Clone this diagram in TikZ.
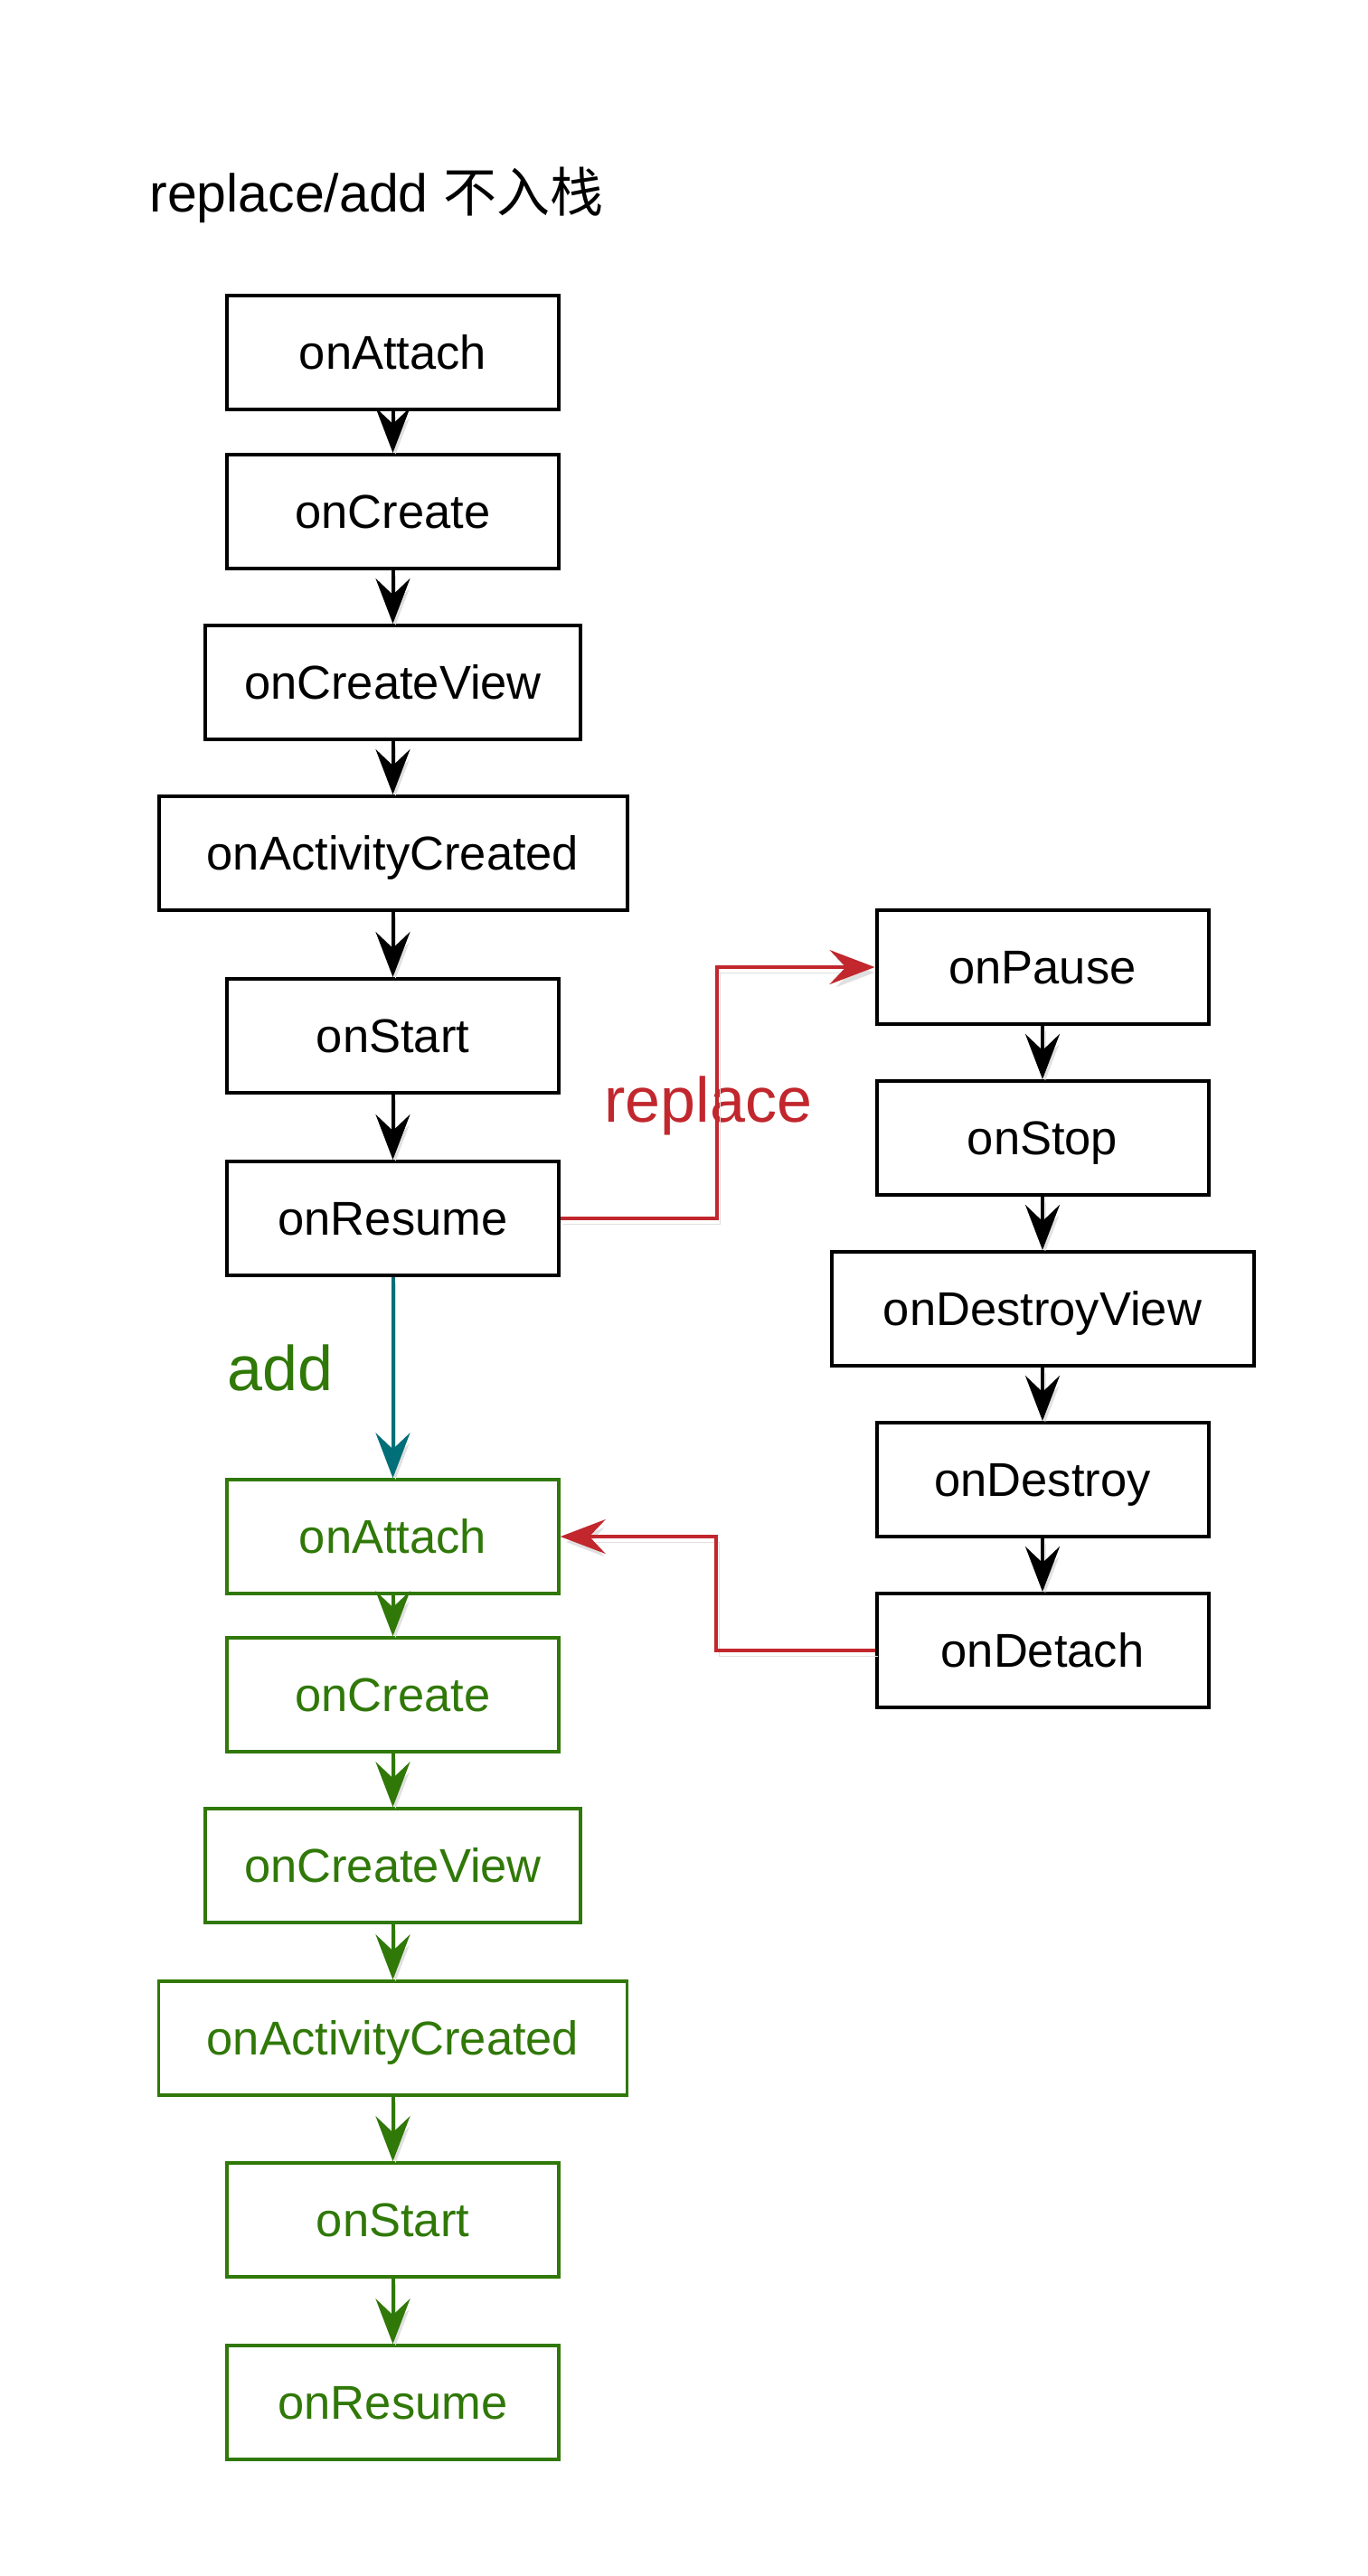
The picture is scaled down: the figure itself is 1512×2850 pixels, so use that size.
\documentclass[tikz,border=0pt]{standalone}
\usepackage{fontspec}
\setmainfont{Liberation Sans}
\newfontfamily\cjk{Noto Sans CJK SC}
\usetikzlibrary{arrows.meta,calc}
\definecolor{kred}{RGB}{193,39,45}
\definecolor{kgreen}{RGB}{48,120,8}
\definecolor{kteal}{RGB}{0,111,119}
\begin{document}
\begin{tikzpicture}[x=0.5pt,y=-0.5pt,
  box/.style={draw, line width=2pt, minimum height=63pt, inner sep=0pt,
    font=\fontsize{26.25pt}{30pt}\selectfont, text height=18.8pt, text depth=0pt},
  gbox/.style={box, draw=kgreen, text=kgreen, line width=1.75pt},
  narrow/.style={minimum width=183.5pt},
  medium/.style={minimum width=207.5pt},
  wide/.style={minimum width=259pt},
  rwide/.style={minimum width=233.5pt},
  shadowed/.style={preaction={draw=black!12, transform canvas={shift={(1.5pt,-3pt)}}}},
  arr/.style={shadowed, -{Stealth[length=25pt,width=19pt,inset=9pt]}, line width=2pt},
  garr/.style={arr, draw=kgreen},
  rarr/.style={arr, draw=kred, line width=1.6pt},
  tarr/.style={arr, draw=kteal, line width=2pt},
  lbl/.style={anchor=base west, inner sep=0pt, font=\fontsize{35pt}{40pt}\selectfont}
]
\useasboundingbox (0,0) rectangle (1512,2850);
\fill[white] (0,0) rectangle (1512,2850);

\node[anchor=base west, inner sep=0pt, font=\fontsize{29.5pt}{34pt}\selectfont] (title) at (165,234) {replace/add {\cjk 不入栈}};

% left column (black)
\node[box,narrow] (a1) at (434.5,390) {onAttach};
\node[box,narrow] (a2) at (434.5,566) {onCreate};
\node[box,medium] (a3) at (434.5,755) {onCreateView};
\node[box,wide]   (a4) at (434.5,944) {onActivityCreated};
\node[box,narrow] (a5) at (434.5,1146) {onStart};
\node[box,narrow] (a6) at (434.5,1348) {onResume};

% left column (green)
\node[gbox,narrow] (g1) at (434.5,1700) {onAttach};
\node[gbox,narrow] (g2) at (434.5,1875) {onCreate};
\node[gbox,medium] (g3) at (434.5,2064) {onCreateView};
\node[gbox,wide]   (g4) at (434.5,2255) {onActivityCreated};
\node[gbox,narrow] (g5) at (434.5,2456) {onStart};
\node[gbox,narrow] (g6) at (434.5,2658) {onResume};

% right column
\node[box,narrow] (p1) at (1153,1070) {onPause};
\node[box,narrow] (p2) at (1153,1259) {onStop};
\node[box,rwide]  (p3) at (1153,1448) {onDestroyView};
\node[box,narrow] (p4) at (1153,1637) {onDestroy};
\node[box,narrow] (p5) at (1153,1826) {onDetach};

% labels
\node[lbl, text=kred] (lrep) at (668,1241) {replace};
\node[lbl, text=kgreen] (ladd) at (251,1538) {add};

% arrows
\foreach \s/\t in {a1/a2,a2/a3,a3/a4,a4/a5,a5/a6,p1/p2,p2/p3,p3/p4,p4/p5}
  \draw[arr] (\s.south) -- (\t.north);
\foreach \s/\t in {g1/g2,g2/g3,g3/g4,g4/g5,g5/g6}
  \draw[garr] (\s.south) -- (\t.north);
\draw[tarr] (a6.south) -- (g1.north);
\draw[rarr] (a6.east) -- (793,1348) |- (p1.west);
\draw[rarr] (p5.west) -- (792,1826) |- (g1.east);
\end{tikzpicture}
\end{document}
